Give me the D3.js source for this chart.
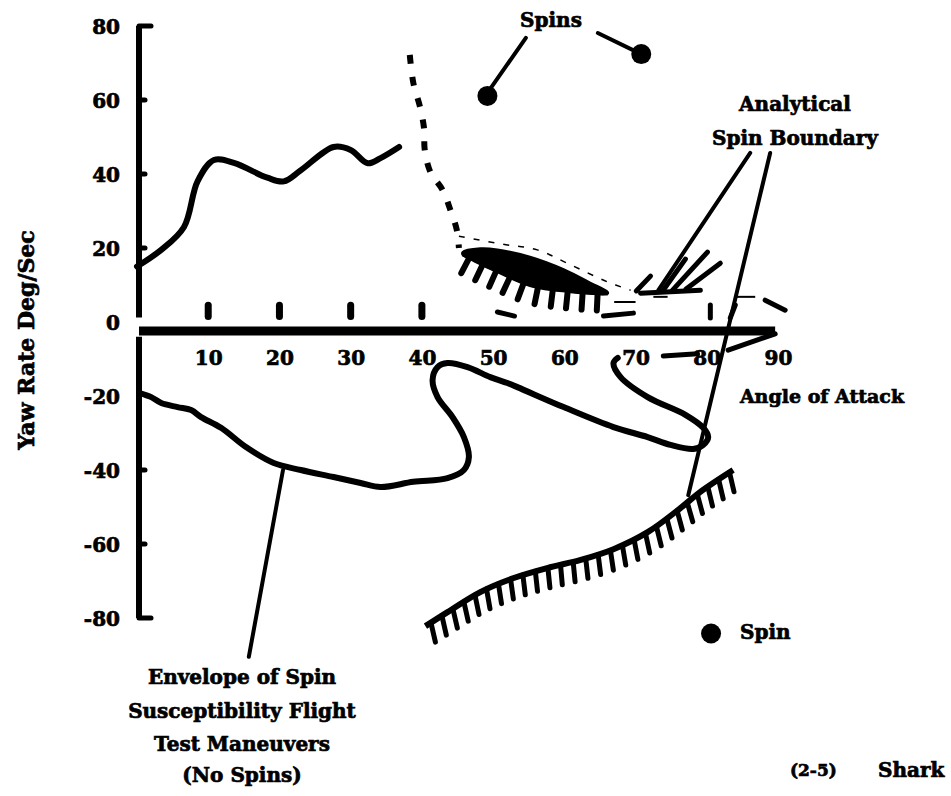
<!DOCTYPE html>
<html>
<head>
<meta charset="utf-8">
<script src="https://cdn.jsdelivr.net/npm/d3@7"></script>
<style>
  body { margin: 0; background: #fff; }
  text { font-family: "DejaVu Serif", serif; font-weight: bold; fill: #000; stroke: #000; stroke-width: 0.7px; }
</style>
</head>
<body>
<div id="chart"></div>
<script>
// axis ticks
const xTicks = [10, 20, 30, 40, 50, 60, 70, 80, 90];
const yTicks = [80, 60, 40, 20, 0, -20, -40, -60, -80];

// flight test traces [angle of attack, yaw rate]
const upperTrace = [[0, 15], [3.4, 19.5], [6.6, 25.7], [8.5, 38], [10.8, 43.8], [13.6, 43], [18.3, 39],
    [20.6, 38], [23, 41], [27.6, 47.3], [30, 46.5], [32.4, 42.9], [34.2, 44.3], [36.8, 47.3]];

const lowerTrace = [[0.4, -19.2], [2, -20.3], [3.4, -21.9], [5.7, -23], [7.6, -23.8], [9, -25.7], [11.8, -28.6],
    [15.3, -33.8], [19.2, -38.1], [23, -40], [27.6, -41.9], [31.4, -43.5], [34.2, -44.6], [38.8, -43.2],
    [43.6, -42.2], [45.9, -40], [46.6, -36.5], [45.9, -31.1], [44.3, -25.7], [42.2, -20.3], [41.5, -15.7],
    [42.2, -12.2], [43.6, -11.1], [46.4, -12.2], [49.6, -14.9], [52, -16.5], [53.4, -17.6], [59.9, -23],
    [66.9, -28.4], [71.7, -31.1], [74.9, -33.2], [78.1, -34.3], [79.5, -33.2], [80.2, -31.1], [79.5, -28.6],
    [77, -25.1], [71.7, -20.3], [67.9, -14.9], [66.9, -11.1], [67.5, -9.7]];

const spinPoints = [[49.2, 61.1], [70.8, 72.4]];
const legendSpin = [[80.6, -84.2]];

// analytical spin boundary
const boundaryDashed = [[38.3, 72.2], [38.8, 64.6], [39.7, 58.4], [40.3, 52.4], [40.4, 46.5], [41.2, 40.5],
    [42.9, 35.7], [44, 30.3], [44.9, 24.9], [45.2, 20]];
const boundaryThin = [[45.2, 23.2], [51.1, 21.1], [56.2, 19.5], [60.4, 15.9], [66.1, 10.8], [69.3, 8.6]];
const blobTop = [[45.7, 18.9], [48.2, 19.9], [50.6, 19.6], [55.3, 17.6], [59.9, 14.3], [63.7, 10.6], [66.1, 8.1]];
const blobBase = [[45.7, 18.2], [47.5, 16.4], [50.6, 13.6], [55.3, 9.8], [60.9, 8.2], [66.1, 7.6]];
const lowerBoundary = [[40.5, -82.2], [43.6, -78.4], [48.2, -73], [52.9, -69.2], [57.6, -66.5], [62.3, -64.3],
    [66.9, -61.4], [71.7, -56.8], [76.3, -50.3], [79.1, -45.9], [83.7, -40]];
const fingers = [[[70.7, 7.8], [79.1, 8.6]], [[70.1, 8.4], [72.1, 12.4]], [[73.8, 8.4], [77, 17]],
    [[75.2, 8.6], [80.1, 18.9]], [[77.1, 8.9], [81.9, 15.9]]];

// leader lines
const leaders = [[[54.6, 76.8], [49.2, 61.9]], [[64.7, 78.1], [70.8, 72.4]], [[86.1, 45.7], [73.2, 8.6]],
    [[88.9, 45.7], [77.4, -46.8]], [[15.7, -90.5], [20.5, -40]]];

// stray scan marks
const fragments = [[[50.6, 2.7], [53, 1.6]], [[65.5, 1.6], [69.7, 2.4]], [[80.5, 4.6], [80.5, 1.1]],
    [[84, 4.6], [83.3, 1.1]], [[73.9, -9.2], [78.7, -8.6]], [[88.2, 5.9], [91, 3.2]], [[83, -7.6], [89.6, -3.2]]];
const thinFragments = [[[67, 5.4], [70, 5.4]], [[72.5, 6.8], [74.5, 6.8]], [[84, 6.8], [86.8, 6.8]]];

const width = 951, height = 796;

let svg = d3.select("#chart").append("svg")
    .attr("width", width)
    .attr("height", height);

let x = d3.scaleLinear().domain([0, 90]).range([137, 778]);
let y = d3.scaleLinear().domain([-80, 80]).range([618, 26]);

let line = d3.line()
    .x(d => x(d[0]))
    .y(d => y(d[1]))
    .curve(d3.curveCatmullRom.alpha(0.5));

let straight = d3.line().x(d => x(d[0])).y(d => y(d[1]));

// y axis (labels via d3, line drawn as two strokes)
let yAxis = svg.append("g")
    .attr("transform", "translate(" + 120 + ",0)")
    .call(d3.axisLeft(y).tickValues(yTicks).tickSize(0).tickPadding(0).tickFormat(d => d3.format("d")(d).replace("−", "-")));
yAxis.select(".domain").remove();
yAxis.selectAll("text")
    .attr("font-size", 20)
    .attr("font-family", null)
    .attr("dy", "0.35em");

svg.append("line")
    .attr("x1", x(0) + 2).attr("x2", x(0) + 2)
    .attr("y1", y(80)).attr("y2", y(1.2))
    .attr("stroke", "#000").attr("stroke-width", 6);
svg.append("line")
    .attr("x1", x(0) + 2).attr("x2", x(0) + 2)
    .attr("y1", y(-4)).attr("y2", y(-80))
    .attr("stroke", "#000").attr("stroke-width", 6);

// hooks and tick bumps on the y axis
svg.append("g").selectAll("line")
    .data([80, 60, 40, 20, -40, -60, -80])
    .enter().append("line")
    .attr("x1", x(0) + 2)
    .attr("x2", d => (d === 80 || d === -80) ? x(0) + 14 : x(0) + 8)
    .attr("y1", d => y(d)).attr("y2", d => y(d))
    .attr("stroke", "#000").attr("stroke-width", 5)
    .attr("stroke-linecap", "round");

// x axis bar
svg.append("line")
    .attr("x1", x(0) + 2).attr("x2", x(89.6))
    .attr("y1", y(-2.4)).attr("y2", y(-2.4))
    .attr("stroke", "#000").attr("stroke-width", 9);

let xAxis = svg.append("g")
    .attr("transform", "translate(0," + y(-9.6) + ")")
    .call(d3.axisBottom(x).tickValues(xTicks).tickSize(0).tickPadding(0));
xAxis.select(".domain").remove();
xAxis.selectAll("text")
    .attr("font-size", 20)
    .attr("font-family", null)
    .attr("dy", "0.35em")
    .attr("y", 0);

// small tick bumps above the bar
svg.append("g").selectAll("line")
    .data([10, 20, 30, 40])
    .enter().append("line")
    .attr("x1", d => x(d)).attr("x2", d => x(d))
    .attr("y1", y(1.5)).attr("y2", y(4.5))
    .attr("stroke", "#000").attr("stroke-width", 7)
    .attr("stroke-linecap", "round");

// traces
svg.append("path")
    .attr("d", line(upperTrace))
    .attr("fill", "none").attr("stroke", "#000").attr("stroke-width", 6)
    .attr("stroke-linecap", "round");
svg.append("path")
    .attr("d", line(lowerTrace))
    .attr("fill", "none").attr("stroke", "#000").attr("stroke-width", 6)
    .attr("stroke-linecap", "round").attr("stroke-linejoin", "round");

// boundary: dashed part and thin dotted part
svg.append("path")
    .attr("d", line(boundaryDashed))
    .attr("fill", "none").attr("stroke", "#000").attr("stroke-width", 6)
    .attr("stroke-dasharray", "9,13");
svg.append("path")
    .attr("d", line(boundaryThin))
    .attr("fill", "none").attr("stroke", "#000").attr("stroke-width", 1.5)
    .attr("stroke-dasharray", "6,9");

function hatch(pathNode, spacing, len, k, w)
{
    let L = pathNode.getTotalLength();
    let g = svg.append("g");
    for (let s = spacing / 2; s < L; s += spacing)
    {
        let p = pathNode.getPointAtLength(s);
        let a = pathNode.getPointAtLength(Math.max(0, s - 2));
        let b = pathNode.getPointAtLength(Math.min(L, s + 2));
        let tx = b.x - a.x, ty = b.y - a.y;
        let nx = -ty, ny = tx;
        if (ny < 0) { nx = -nx; ny = -ny; }
        let n = Math.hypot(nx, ny);
        nx = nx / n * (1 - k); ny = ny / n * (1 - k) + k;
        n = Math.hypot(nx, ny);
        g.append("line")
            .attr("x1", p.x).attr("y1", p.y)
            .attr("x2", p.x + nx / n * len).attr("y2", p.y + ny / n * len)
            .attr("stroke", "#000").attr("stroke-width", w)
            .attr("stroke-linecap", "round");
    }
}

// filled region with hatches
svg.append("path")
    .attr("d", line.curve(d3.curveCatmullRomClosed)(blobTop.concat(blobBase.slice().reverse())))
    .attr("fill", "#000").attr("stroke", "#000").attr("stroke-width", 2);
line.curve(d3.curveCatmullRom.alpha(0.5));

let basePath = svg.append("path")
    .attr("d", line(blobBase))
    .attr("fill", "none").attr("stroke", "#000").attr("stroke-width", 3);
hatch(basePath.node(), 15, 17, 0, 6);

let lowerPath = svg.append("path")
    .attr("d", line(lowerBoundary))
    .attr("fill", "none").attr("stroke", "#000").attr("stroke-width", 6);
hatch(lowerPath.node(), 13, 20, 0.6, 5);

svg.append("g").selectAll("path")
    .data(fingers)
    .enter().append("path")
    .attr("d", d => straight(d))
    .attr("stroke", "#000").attr("stroke-width", 5)
    .attr("stroke-linecap", "round");

svg.append("g").selectAll("path")
    .data(fragments)
    .enter().append("path")
    .attr("d", d => straight(d))
    .attr("stroke", "#000").attr("stroke-width", 5)
    .attr("stroke-linecap", "round");

svg.append("g").selectAll("path")
    .data(thinFragments)
    .enter().append("path")
    .attr("d", d => straight(d))
    .attr("stroke", "#000").attr("stroke-width", 2);

// leaders
svg.append("g").selectAll("path")
    .data(leaders)
    .enter().append("path")
    .attr("d", d => straight(d))
    .attr("stroke", "#000").attr("stroke-width", 4)
    .attr("stroke-linecap", "round");

// spin points
svg.append("g").selectAll("circle")
    .data(spinPoints.concat(legendSpin))
    .enter().append("circle")
    .attr("cx", d => x(d[0]))
    .attr("cy", d => y(d[1]))
    .attr("r", 10)
    .attr("fill", "#000");

// labels
function label(tx, ty, str, size, anchor)
{
    svg.append("text")
        .attr("x", tx).attr("y", ty)
        .attr("font-size", size)
        .attr("text-anchor", anchor || "middle")
        .attr("dy", "0.35em")
        .text(str);
}

svg.append("text")
    .attr("transform", "translate(26,340) rotate(-90)")
    .attr("font-size", 22)
    .attr("text-anchor", "middle")
    .attr("dy", "0.35em")
    .text("Yaw Rate Deg/Sec");

label(551, 20, "Spins", 20);
label(795, 104, "Analytical", 20);
label(795, 138, "Spin Boundary", 20);
label(822, 396, "Angle of Attack", 19);
label(242, 677, "Envelope of Spin", 20);
label(242, 711, "Susceptibility Flight", 20);
label(242, 744, "Test Maneuvers", 20);
label(242, 775, "(No Spins)", 20);
label(740, 632, "Spin", 20, "start");
label(790, 770, "(2-5)", 17, "start");
label(878, 770, "Shark", 20, "start");
</script>
</body>
</html>
